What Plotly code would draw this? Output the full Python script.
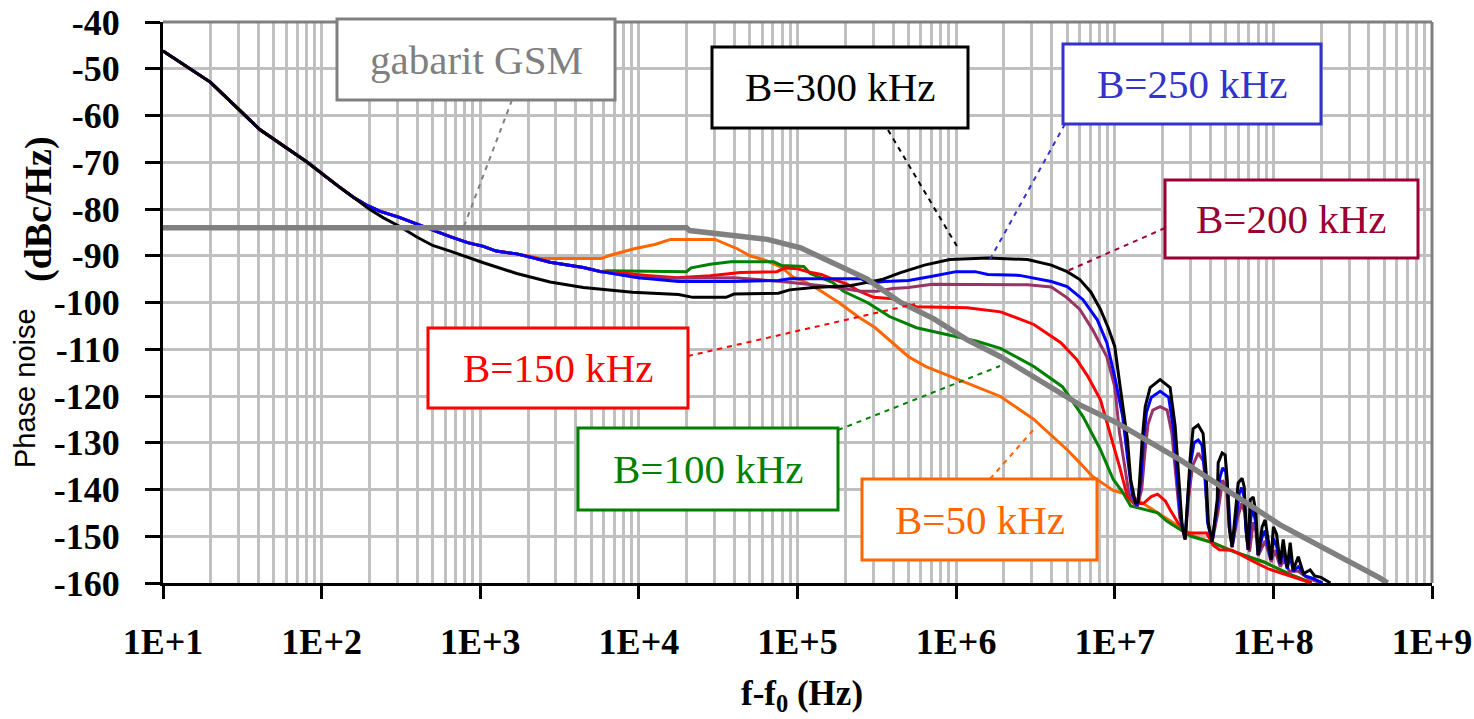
import plotly.graph_objects as go

# ---------------- data (x stored as log10 of f-f0 in Hz, y in dBc/Hz) ----------------
start_logf = [1.0, 1.30, 1.61, 1.91, 2.1, 2.2]
start_db = [-46.2, -52.9, -63, -70, -75, -77.5]

upper_logf = [2.29, 2.37, 2.49, 2.6, 2.7, 2.81, 2.92, 3.02, 3.1, 3.23]
upper_db = [-79.3, -80.5, -81.8, -83.2, -84.6, -85.9, -87.2, -88, -89, -89.6]

mid_logf = [3.34, 3.44, 3.55, 3.65, 3.76]
mid_db = [-90.5, -91.4, -92, -92.5, -93.4]

b300_logf = [2.3, 2.39, 2.49, 2.6, 2.7, 2.81, 3.02, 3.23, 3.44, 3.65, 3.96, 4.25, 4.34, 4.55, 4.6,
             4.88, 4.95, 5.1, 5.33, 5.44, 5.54, 5.65, 5.8, 5.96, 6.2, 6.45, 6.6, 6.7, 6.78, 6.85,
             6.91, 6.96, 7.0, 7.03, 7.06, 7.08, 7.1, 7.13, 7.148, 7.173, 7.192, 7.223, 7.286, 7.349,
             7.381, 7.40, 7.425, 7.444, 7.457, 7.476, 7.494, 7.526, 7.557, 7.576, 7.589, 7.614,
             7.646, 7.652, 7.677, 7.696, 7.709, 7.721, 7.74, 7.766, 7.778, 7.803, 7.816, 7.829,
             7.841, 7.854, 7.873, 7.89, 7.898, 7.904, 7.929, 7.948, 7.967, 7.986, 8.0, 8.02, 8.043,
             8.062, 8.087, 8.106, 8.125, 8.157, 8.19, 8.232, 8.26, 8.3, 8.36]
b300_db = [-80, -81.9, -83.7, -86, -87.8, -89, -91.5, -93.8, -95.6, -96.8, -97.8, -98.3, -98.9, -98.9, -98.2,
           -98, -97.3, -96.8, -96.4, -95.7, -95, -93.6, -92, -90.8, -90.5, -90.8, -92, -93.4, -95.1, -97.8,
           -101.5, -105.5, -109.4, -117, -124, -129.3, -137.8, -142.8, -142.7, -129.3, -122.3, -118.2, -116.5, -118.2,
           -126.5, -136.4, -147.9, -150.7, -143.7, -133, -127, -126.2, -128, -136.4, -147, -151.2,
           -142.2, -134.3, -132.2, -132.6, -138, -148, -152.3, -143.7, -138.6, -137.6, -139.4, -148.6,
           -152.9, -142.2, -141.6, -145, -152.3, -154, -148, -146.5, -150.7, -155, -148, -149.5, -155.8,
           -150.7, -156.7, -151.4, -157.2, -154.4, -158, -157.2, -158.5, -158.8, -160]

b250_logf = [3.86, 4.0, 4.25, 4.6, 4.88, 4.95, 5.4, 5.45, 5.55, 5.7, 5.85, 6.0, 6.12, 6.2, 6.4, 6.5, 6.6,
             6.70, 6.80, 6.89, 6.95, 7.0, 7.05, 7.08, 7.11, 7.14, 7.165, 7.18, 7.2, 7.23, 7.286, 7.34,
             7.37, 7.39, 7.415, 7.444, 7.46, 7.48, 7.5, 7.526, 7.55, 7.57, 7.585, 7.614, 7.648, 7.662,
             7.68, 7.70, 7.715, 7.728, 7.74, 7.77, 7.785, 7.80, 7.815, 7.828, 7.841, 7.858, 7.873, 7.89,
             7.904, 7.93, 7.948, 7.965, 7.986, 8.0, 8.02, 8.043, 8.062, 8.087, 8.106, 8.125, 8.157, 8.2,
             8.25, 8.31]
b250_db = [-94, -94.7, -95.5, -95.5, -95.3, -94.9, -94.9, -95.8, -95.5, -95.3, -94.4, -93.4, -93.4, -94, -94.2, -94.8, -95.5,
           -96.6, -99.4, -103.7, -108.6, -115.9, -124.4, -133, -141, -143.5, -138, -130, -123.5, -120.3, -119, -120.3,
           -127, -136, -146, -150.5, -142, -134, -130, -129.4, -130.5, -137, -147, -151.2, -143, -137.5,
           -135.4, -136.2, -141, -149, -152.3, -145, -140.8, -139.6, -141.5, -149, -152.9, -146, -144, -147.5,
           -154, -150, -148.8, -152, -155, -150.5, -152, -156, -153, -157, -154, -157.5, -156.5, -158.5,
           -159, -160]

b200_logf = [3.86, 4.0, 4.24, 4.6, 4.9, 5.2, 5.4, 5.5, 5.6, 5.7, 5.85, 6.45, 6.6, 6.70, 6.78, 6.86, 6.95,
             7.0, 7.03, 7.06, 7.09, 7.14, 7.17, 7.19, 7.21, 7.24, 7.286, 7.33, 7.36, 7.385, 7.41, 7.444,
             7.465, 7.49, 7.526, 7.56, 7.575, 7.59, 7.614, 7.65, 7.68, 7.705, 7.725, 7.74, 7.775, 7.80,
             7.82, 7.835, 7.85, 7.873, 7.89, 7.904, 7.948, 7.986, 8.01, 8.043, 8.07, 8.1, 8.157, 8.22, 8.3]
b200_db = [-94, -94.7, -94.8, -94.7, -95.5, -96.6, -97.6, -97.6, -97, -96.8, -96.1, -96.2, -96.7, -99, -101.5, -105.8, -111.6,
           -118, -127.9, -135, -141, -143.8, -140, -132, -126, -123, -122.3, -123, -128, -137, -146, -150.7,
           -142, -135, -132.2, -134, -140, -147.5, -151.2, -145, -138, -140, -149, -152.3, -146, -143,
           -145, -151, -153.3, -147, -149, -154.2, -151, -155.5, -153, -156.5, -155, -157.5, -157.5, -159, -160]

b150_logf = [3.86, 4.05, 4.24, 4.45, 4.64, 4.87, 4.92, 5.0, 5.06, 5.15, 5.22, 5.31, 5.39, 5.48, 5.6, 5.66,
             5.75, 6.07, 6.28, 6.49, 6.66, 6.76, 6.83, 6.91, 6.97, 7.03, 7.08, 7.12, 7.18, 7.23, 7.27,
             7.32, 7.35, 7.40, 7.46, 7.58, 7.62, 7.66, 7.74, 7.80, 7.88, 7.97, 8.09, 8.19, 8.24]
b150_db = [-93.6, -94.2, -94.7, -94.3, -93.6, -93.4, -92.6, -92.8, -93.4, -94, -95, -96, -97.6, -98.9, -99.2, -100.1,
           -100.9, -101.1, -102, -104.7, -108.6, -112.2, -115.8, -120.8, -127.9, -135.1, -141.5, -143, -143, -141.5, -141,
           -142.5, -144.4, -147.2, -149.3, -149.3, -151.9, -152.9, -153, -154.1, -155.5, -157, -158.3, -159.4, -160]

b100_logf = [3.80, 4.3, 4.33, 4.45, 4.58, 4.85, 4.9, 5.04, 5.08, 5.22, 5.29, 5.44, 5.58, 5.75, 5.94, 6.13,
             6.28, 6.49, 6.67, 6.80, 6.91, 6.99, 7.05, 7.1, 7.27, 7.33, 7.48, 7.62, 7.75, 7.94, 8.13, 8.24]
b100_db = [-93.2, -93.4, -92.6, -91.8, -91.3, -91.3, -92.1, -92.3, -93.8, -95.7, -97.6, -100, -103, -105.4, -106.9, -108.3,
           -109.8, -113.7, -118, -124.4, -131.5, -137.8, -140.6, -143.5, -145, -146.8, -150, -151.4, -153.3, -155.5, -158.5, -160]

b50_logf = [3.3, 3.38, 3.76, 3.82, 3.88, 3.97, 4.1, 4.2, 4.48, 4.55, 4.62, 4.7, 4.8, 4.9, 4.97, 5.06, 5.15,
            5.26, 5.38, 5.49, 5.6, 5.7, 5.81, 5.92, 6.02, 6.15, 6.28, 6.49, 6.70, 6.78, 6.86, 6.99, 7.1,
            7.3, 7.5, 7.62, 7.75, 7.94, 8.13, 8.24]
b50_db = [-90, -90.6, -90.6, -89.9, -89.3, -88.5, -87.6, -86.5, -86.5, -87.5, -88.5, -90, -91, -92.5, -94.5, -95.8, -97.6,
          -100, -103, -105.4, -108.6, -111.6, -113.7, -115.2, -116.5, -118.2, -120.1, -125, -131.5, -134.3, -137.2, -140.2, -141.3,
          -145.6, -150, -151.4, -153.3, -155.5, -158.5, -160]

gsm_logf = [1.0, 4.3, 4.32, 4.59, 4.81, 5.02, 5.22, 5.44, 5.65, 5.86, 6.07, 6.28, 6.78, 7.0, 7.41, 8.04, 8.67, 8.72]
gsm_db = [-84, -84, -84.6, -85.5, -86.5, -88.3, -91.5, -95, -100, -103.5, -108, -111.6, -121.9, -125.5, -133.6, -147.5, -158.9, -160]

x_tickvals = [1e1, 1e2, 1e3, 1e4, 1e5, 1e6, 1e7, 1e8, 1e9]
x_ticktext = ["1E+1", "1E+2", "1E+3", "1E+4", "1E+5", "1E+6", "1E+7", "1E+8", "1E+9"]
y_tickvals = [-40, -50, -60, -70, -80, -90, -100, -110, -120, -130, -140, -150, -160]
y_ticktext = ["-40", "-50", "-60", "-70", "-80", "-90", "-100", "-110", "-120", "-130", "-140", "-150", "-160"]

# ---------------- figure ----------------
W, H = 1474, 719
L, R, T, B = 163, 1432, 22, 583


def px(X):
    return (X - L) / (R - L)


def py(Y):
    return (B - Y) / (B - T)


def hz(logs):
    return [10 ** v for v in logs]


series = [
    ("B=50 kHz", start_logf + upper_logf + b50_logf, start_db + upper_db + b50_db, "#ff6600", 3),
    ("B=100 kHz", start_logf + upper_logf + mid_logf + b100_logf, start_db + upper_db + mid_db + b100_db, "#008000", 3),
    ("B=150 kHz", start_logf + upper_logf + mid_logf + b150_logf, start_db + upper_db + mid_db + b150_db, "#ff0000", 3),
    ("B=200 kHz", start_logf + upper_logf + mid_logf + b200_logf, start_db + upper_db + mid_db + b200_db, "#993366", 3),
    ("B=250 kHz", start_logf + upper_logf + mid_logf + b250_logf, start_db + upper_db + mid_db + b250_db, "#0000ff", 3),
    ("B=300 kHz", start_logf + b300_logf, start_db + b300_db, "#000000", 3),
    ("gabarit GSM", gsm_logf, gsm_db, "#808080", 5.5),
]

fig = go.Figure()
for name, lx, ly, col, w in series:
    fig.add_trace(go.Scatter(x=hz(lx), y=ly, mode="lines", name=name,
                             line=dict(color=col, width=w), showlegend=False))

grid = "#c0c0c0"
tfont = dict(family="Liberation Serif", size=36, color="black", weight="bold")
fig.update_layout(
    width=W, height=H,
    margin=dict(l=L, r=W - R, t=T, b=H - B, autoexpand=False),
    paper_bgcolor="white", plot_bgcolor="white",
    xaxis=dict(type="log", range=[1, 9], tickvals=x_tickvals, ticktext=x_ticktext,
               showgrid=True, gridcolor=grid, gridwidth=2.5,
               minor=dict(dtick="D1", showgrid=True, gridcolor=grid, gridwidth=2.5, ticks=""),
               showline=True, linecolor="black", linewidth=3,
               ticks="outside", ticklen=13, tickwidth=3, tickcolor="black",
               tickfont=tfont, ticklabelstandoff=12, zeroline=False, automargin=False),
    yaxis=dict(range=[-160, -40], tickvals=y_tickvals, ticktext=y_ticktext,
               showgrid=True, gridcolor=grid, gridwidth=2.5,
               showline=True, linecolor="black", linewidth=3,
               ticks="outside", ticklen=15, tickwidth=3, tickcolor="black",
               tickfont=tfont, ticklabelstandoff=18, zeroline=False, automargin=False),
)

shapes = []
# top and right plot border (grey)
shapes.append(dict(type="line", xref="paper", yref="paper", x0=0, x1=1, y0=1, y1=1,
                   line=dict(color="#808080", width=3), layer="above"))
shapes.append(dict(type="line", xref="paper", yref="paper", x0=1, x1=1, y0=0, y1=1,
                   line=dict(color="#808080", width=3), layer="above"))

# labels: text, box (x0,y0,x1,y1 pixels), colour, leader (from, to) pixels
labels = [
    ("gabarit GSM", (337, 19, 615, 100), "#808080", ((512, 100), (463, 229))),
    ("B=300 kHz", (712, 47, 968, 128), "#000000", ((888, 130), (958, 248))),
    ("B=250 kHz", (1063, 44, 1321, 124), "#3333cc", ((1065, 124), (988, 263))),
    ("B=200 kHz", (1165, 180, 1418, 258), "#990033", ((1165, 228), (1065, 272))),
    ("B=150 kHz", (428, 328, 688, 408), "#ff0000", ((688, 356), (915, 304))),
    ("B=100 kHz", (578, 428, 838, 510), "#008000", ((838, 430), (1000, 366))),
    ("B=50 kHz", (862, 479, 1097, 560), "#ff6600", ((990, 479), (1035, 428))),
]
annotations = []
for text, (x0, y0, x1, y1), col, ((ax, ay), (bx, by)) in labels:
    shapes.append(dict(type="line", xref="paper", yref="paper", x0=px(ax), y0=py(ay), x1=px(bx), y1=py(by),
                       line=dict(color=col, width=2, dash="5px,5px"), layer="above"))
    shapes.append(dict(type="rect", xref="paper", yref="paper", x0=px(x0), y0=py(y0), x1=px(x1), y1=py(y1),
                       line=dict(color=col, width=3), fillcolor="white", layer="above"))
    annotations.append(dict(text=text, xref="paper", yref="paper", x=px((x0 + x1) / 2), y=py((y0 + y1) / 2),
                            xanchor="center", yanchor="middle", showarrow=False,
                            font=dict(family="Liberation Serif", size=41, color=col)))

# axis titles
annotations.append(dict(text="f-f<sub>0</sub> (Hz)", xref="paper", yref="paper", x=px(802), y=py(695),
                        xanchor="center", yanchor="middle", showarrow=False,
                        font=dict(family="Liberation Serif", size=35, color="black", weight="bold")))
annotations.append(dict(text="Phase noise", xref="paper", yref="paper", x=px(25), y=py(388),
                        xanchor="center", yanchor="middle", showarrow=False, textangle=-90,
                        font=dict(family="Liberation Sans", size=29, color="black")))
annotations.append(dict(text="(dBc/Hz)", xref="paper", yref="paper", x=px(38), y=py(209),
                        xanchor="center", yanchor="middle", showarrow=False, textangle=-90,
                        font=dict(family="Liberation Serif", size=38, color="black", weight="bold")))

fig.update_layout(shapes=shapes, annotations=annotations)
fig.write_html("out.html")
